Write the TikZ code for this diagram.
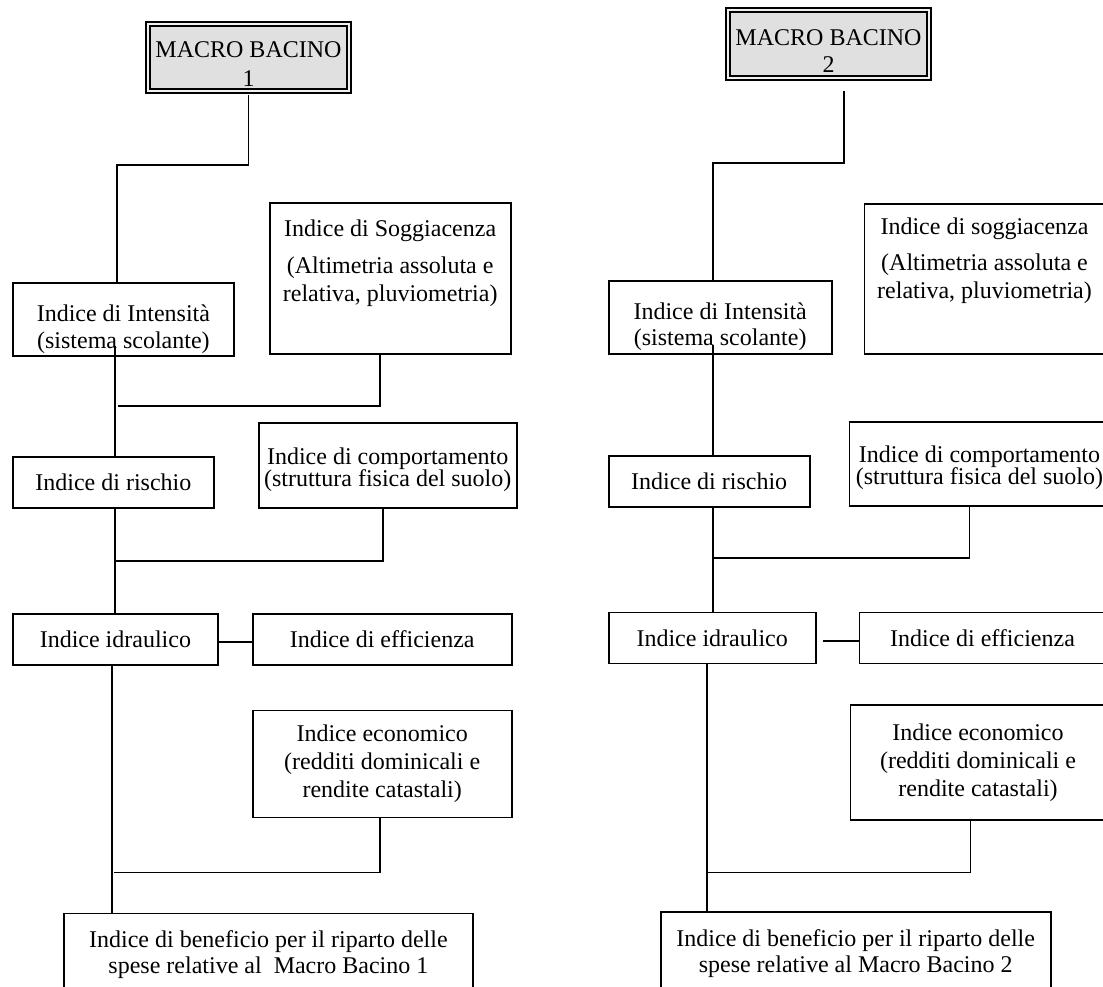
\documentclass[tikz,border=0pt]{standalone}
\usepackage{fontspec}
\setmainfont{Liberation Serif}
\usetikzlibrary{positioning}

\tikzset{
  box/.style={draw, line width=1.8pt, align=center, inner sep=2pt},
  macro/.style={box, line width=2pt, double=black!6, double distance=2pt, fill=black!12},
  link/.style={line width=1.8pt},
}

\begin{document}
\begin{tikzpicture}[x=1pt, y=-1pt, font=\fontsize{24}{28}\selectfont]
            \clip (0,0) rectangle (1103,986);

            % macro bacino 1
            \node (mb1)  [macro, minimum width=201pt, minimum height=67pt] at (248.5,57.5) {\mbox{}\\MACRO BACINO\\[1pt]1} {};
            \node (int1) [box, minimum width=221pt, minimum height=72pt, anchor=north west] at (12,282) {\mbox{}\\[9pt]Indice di Intensità\\[-1pt](sistema scolante)} {};
            \node (sog1) [box, minimum width=241pt, minimum height=151pt, above right=80pt and 34pt of int1.north east, anchor=north west] {Indice di Soggiacenza\\[9pt](Altimetria assoluta e\\relativa, pluviometria)\\[7pt]\mbox{}} {};
            \node (risc1) [box, minimum width=201pt, minimum height=51pt, below=99pt of int1.south west, anchor=north west] {Indice di rischio} {};
            \node (comp1) [box, minimum width=258pt, minimum height=85pt, above right=34pt and 43pt of risc1.north east, anchor=north west] {\mbox{}\\[-3pt]Indice di comportamento\\[-6pt](struttura fisica del suolo)} {};
            \node (idr1) [box, minimum width=205pt, minimum height=51pt, below=104pt of risc1.south west, anchor=north west] {Indice idraulico} {};
            \node (eff1) [box, minimum width=259pt, minimum height=51pt, right=33pt of idr1.north east, anchor=north west] {Indice di efficienza} {};
            \node (eco1) [box, minimum width=259pt, minimum height=107pt, below=44pt of eff1.south west, anchor=north west] {Indice economico\\(redditi dominicali e\\rendite catastali)} {};
            \node (ben1) [box, minimum width=409pt, minimum height=83pt, below right=247pt and 51pt of idr1.south west, anchor=north west] {Indice di beneficio per il riparto delle\\[-2pt]spese relative al\ \ Macro Bacino 1} {};
            \coordinate (top1) at ([xshift=105pt]int1.north west);

            \draw [link] ([yshift=-3pt]mb1.south) |- ([yshift=117pt]top1) -- (top1);
            \draw [link] ([xshift=103pt,yshift=11pt]int1.south west) -- ([xshift=103pt]risc1.north west);
            \draw [link] ([xshift=-10pt]sog1.south) |- ([xshift=106pt,yshift=-49pt]int1.south west);
            \draw [link] ([xshift=103pt]risc1.south west) -- ([xshift=103pt]idr1.north west);
            \draw [link] ([xshift=-5pt]comp1.south) |- ([xshift=103pt,yshift=-52pt]risc1.south west);
            \draw [link] ([yshift=-3pt]idr1.east) -- ([yshift=-3pt]eff1.west);
            \draw [link] ([xshift=100pt]idr1.south west) -- ([xshift=49pt]ben1.north west);
            \draw [link] ([xshift=-2pt]eco1.south) |- ([xshift=102pt,yshift=-207pt]idr1.south west);

            % macro bacino 2
            \node (mb2)  [macro, minimum width=201pt, minimum height=68pt] at (828.5,44) {\mbox{}\\[1pt]MACRO BACINO\\[-1pt]2} {};
            \node (int2) [box, minimum width=223pt, minimum height=73pt, above right=2pt and 373pt of int1.north east, anchor=north west] {\mbox{}\\[7pt]Indice di Intensità\\[-2pt](sistema scolante)} {};
            \node (sog2) [box, minimum width=240pt, minimum height=150pt, above right=77pt and 31pt of int2.north east, anchor=north west] {Indice di soggiacenza\\[8pt](Altimetria assoluta e\\relativa, pluviometria)\\[13pt]\mbox{}} {};
            \node (risc2) [box, minimum width=201pt, minimum height=51pt, below=100pt of int2.south west, anchor=north west] {Indice di rischio} {};
            \node (comp2) [box, minimum width=260pt, minimum height=84pt, above right=34pt and 38pt of risc2.north east, anchor=north west] {\mbox{}\\[-3pt]Indice di comportamento\\[-6pt](struttura fisica del suolo)} {};
            \node (idr2) [box, minimum width=207pt, minimum height=51pt, below=104pt of risc2.south west, anchor=north west] {Indice idraulico} {};
            \node (eff2) [box, minimum width=246pt, minimum height=51pt, right=42pt of idr2.north east, anchor=north west] {Indice di efficienza} {};
            \node (eco2) [box, minimum width=255pt, minimum height=115pt, below left=40pt and 9pt of eff2.south west, anchor=north west] {Indice economico\\(redditi dominicali e\\rendite catastali)} {};
            \node (ben2) [box, minimum width=390pt, minimum height=83pt, below right=247pt and 52pt of idr2.south west, anchor=north west] {Indice di beneficio per il riparto delle\\[-2pt]spese relative al Macro Bacino 2} {};
            \coordinate (top2) at ([xshift=105pt]int2.north west);

            \draw [link] ([xshift=15.5pt,yshift=-12pt]mb2.south) |- ([yshift=117pt]top2) -- (top2);
            \draw [link] ([xshift=105pt,yshift=10pt]int2.south west) -- ([xshift=105pt]risc2.north west);
            \draw [link] ([xshift=105pt]risc2.south west) -- ([xshift=105pt]idr2.north west);
            \draw [link] ([xshift=-10pt]comp2.south) |- ([xshift=104pt,yshift=-50pt]risc2.south west);
            \draw [link] ([xshift=6pt,yshift=-3pt]idr2.east) -- ([yshift=-3pt]eff2.west);
            \draw [link] ([xshift=99pt]idr2.south west) -- ([xshift=47pt]ben2.north west);
            \draw [link] ([xshift=-7.5pt]eco2.south) |- ([xshift=99pt,yshift=-208pt]idr2.south west);

\end{tikzpicture}
\end{document}
